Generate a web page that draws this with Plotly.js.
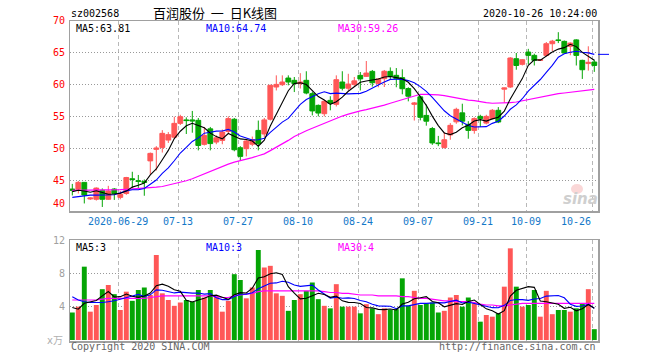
<!DOCTYPE html>
<html><head><meta charset="utf-8">
<script src="https://cdn.plot.ly/plotly-3.0.1.min.js"></script>
<style>html,body{margin:0;padding:0;background:#fff}#chart{width:660px;height:360px}</style>
</head><body><div id="chart"></div>
<script>
const dates = [
'2020-06-15','2020-06-16','2020-06-17','2020-06-18','2020-06-19','2020-06-22','2020-06-23','2020-06-24','2020-06-29','2020-06-30',
'2020-07-01','2020-07-02','2020-07-03','2020-07-06','2020-07-07','2020-07-08','2020-07-09','2020-07-10','2020-07-13','2020-07-14',
'2020-07-15','2020-07-16','2020-07-17','2020-07-20','2020-07-21','2020-07-22','2020-07-23','2020-07-24','2020-07-27','2020-07-28',
'2020-07-29','2020-07-30','2020-07-31','2020-08-03','2020-08-04','2020-08-05','2020-08-06','2020-08-07','2020-08-10','2020-08-11',
'2020-08-12','2020-08-13','2020-08-14','2020-08-17','2020-08-18','2020-08-19','2020-08-20','2020-08-21','2020-08-24','2020-08-25',
'2020-08-26','2020-08-27','2020-08-28','2020-08-31','2020-09-01','2020-09-02','2020-09-03','2020-09-04','2020-09-07','2020-09-08',
'2020-09-09','2020-09-10','2020-09-11','2020-09-14','2020-09-15','2020-09-16','2020-09-17','2020-09-18','2020-09-21','2020-09-22',
'2020-09-23','2020-09-24','2020-09-25','2020-09-28','2020-09-29','2020-09-30','2020-10-09','2020-10-12','2020-10-13','2020-10-14',
'2020-10-15','2020-10-16','2020-10-19','2020-10-20','2020-10-21','2020-10-22','2020-10-23','2020-10-26'];

const openP = [43.7,43.65,44.74,42.15,42.1,43.5,42.1,43.7,42.4,43.0,
45.3,45.0,44.9,48.1,49.9,50.2,51.35,51.8,53.96,54.5,
54.5,54.43,50.68,53.1,51.04,51.3,52.7,54.6,50.15,50.0,
50.7,52.86,52.3,54.6,59.64,60.0,61.04,60.68,60.16,60.68,
58.6,56.77,55.47,57.55,56.93,60.42,59.45,60.05,61.46,61.3,
62.08,60.2,60.94,62.08,61.46,61.1,59.4,56.93,58.1,55.2,
53.15,50.9,50.2,52.15,54.2,55.6,53.8,52.86,55.05,54.0,
54.7,56.0,59.3,59.64,64.06,63.18,65.1,64.58,63.8,64.58,
66.4,67.0,66.77,66.0,67.0,63.8,63.3,63.54];
const highP = [44.5,44.95,44.8,42.4,43.96,43.8,44.2,43.85,43.4,45.6,
46.4,45.9,45.2,49.4,50.4,52.9,52.6,55.0,55.3,54.9,
55.9,54.8,53.4,53.4,52.1,53.0,55.05,54.8,50.4,51.56,
51.9,54.4,54.8,60.0,61.46,61.46,61.46,61.2,61.8,62.1,
58.9,56.9,57.6,58.2,61.46,62.1,61.7,61.2,61.98,63.7,
62.3,61.0,62.3,62.7,62.6,62.4,59.6,57.3,58.3,56.9,
53.4,52.0,52.6,54.0,56.4,57.03,54.3,54.9,55.3,55.3,
56.2,56.5,59.55,64.3,64.95,64.0,65.6,64.84,63.95,66.67,
67.0,68.2,66.9,66.6,67.1,63.9,66.0,63.9];
const lowP = [42.7,43.0,41.45,42.0,41.9,40.9,42.0,42.0,42.1,42.8,
43.85,43.85,42.65,46.0,46.6,49.4,50.9,51.6,53.7,52.3,
52.5,49.74,50.5,49.74,50.7,50.7,52.45,49.6,48.2,48.8,
50.4,49.74,51.8,54.4,59.1,59.8,59.9,58.85,59.4,58.5,
55.2,55.05,55.05,56.0,56.6,59.1,59.1,59.64,59.1,61.2,
59.7,59.6,59.64,60.78,59.6,58.5,57.4,54.4,54.43,53.6,
50.6,50.4,50.0,51.4,53.9,53.65,51.56,52.34,53.4,53.8,
54.6,54.0,57.2,59.5,62.34,63.0,63.18,63.0,63.7,64.4,
65.26,66.5,64.84,64.6,63.0,60.9,62.2,62.0];
const closeP = [43.5,44.74,42.76,42.3,43.85,42.1,43.4,43.0,42.9,45.5,
45.2,44.9,44.75,49.27,50.1,52.4,52.2,53.96,55.0,54.4,
54.35,50.5,52.08,50.8,51.7,52.6,54.7,49.84,48.8,51.2,
51.4,50.78,54.5,59.9,60.05,60.42,60.42,60.16,60.42,58.7,
55.9,55.57,57.4,57.1,60.78,59.45,60.1,60.6,60.9,61.82,
60.3,60.9,62.1,61.3,60.94,59.37,58.2,57.15,54.9,54.3,
50.9,50.8,51.4,53.65,56.15,54.3,52.86,54.7,54.7,55.05,
56.0,54.17,59.5,64.17,63.0,63.9,64.58,63.8,63.9,66.4,
66.8,66.9,64.95,66.5,64.58,62.34,63.5,63.0];

const volume = [3.3,4.0,8.8,3.4,4.2,6.1,6.6,5.5,3.6,5.8,
4.7,6.0,6.3,5.4,10.2,5.6,4.8,4.1,4.5,4.8,
4.6,6.0,5.1,6.0,5.2,3.4,4.7,7.9,7.2,5.0,
6.3,10.8,8.7,8.9,5.6,5.3,3.5,4.8,5.5,5.9,
6.9,4.9,4.1,3.8,6.7,4.0,4.0,4.0,3.2,4.3,
3.8,3.1,3.8,3.6,3.7,7.4,4.1,5.9,4.2,4.4,
4.5,3.3,3.5,5.1,5.4,4.0,5.1,4.4,2.2,3.0,
2.8,3.2,6.4,11.0,6.4,4.0,4.2,6.0,2.8,5.9,
3.1,3.6,3.6,3.4,3.8,4.4,6.1,1.3];

const ma5 = [43.3,43.5,43.4,43.2,43.43,43.15,42.88,42.93,43.05,43.38,
44.0,44.3,44.65,45.92,46.84,48.28,49.74,51.59,52.73,53.59,
53.98,53.64,53.27,52.43,51.89,51.54,52.38,51.93,51.53,51.43,
51.19,50.4,51.34,53.56,55.33,57.13,59.06,60.19,60.29,60.02,
59.12,58.15,57.6,56.93,57.35,58.06,58.97,59.61,60.37,60.57,
60.74,60.9,61.2,61.28,61.11,60.92,60.38,59.39,58.11,56.78,
55.09,53.61,52.46,52.21,52.58,53.26,53.67,54.33,54.54,54.32,
54.66,54.92,55.88,57.78,59.37,60.95,63.03,63.89,63.84,64.52,
65.1,65.56,65.79,66.31,65.95,65.05,64.37,63.81];
const ma10 = [42.4,42.55,42.7,42.75,42.75,42.75,42.75,42.8,43.1,43.41,
43.58,43.59,43.79,44.49,45.11,46.14,47.02,48.12,49.33,50.22,
51.13,51.69,52.43,52.58,52.74,52.76,53.01,52.6,51.98,51.66,
51.36,51.39,51.63,52.54,53.38,54.16,54.73,55.76,56.93,57.68,
58.13,58.6,58.89,58.61,58.69,58.59,58.56,58.6,58.65,58.96,
59.4,59.94,60.41,60.83,60.84,60.83,60.64,60.3,59.7,58.95,
58.01,57.0,55.93,55.16,54.68,54.18,53.64,53.4,53.38,53.45,
53.96,54.3,55.11,56.16,56.85,57.81,58.98,59.89,60.81,61.94,
63.02,64.3,64.84,65.07,65.23,65.08,64.97,64.74];
const ma30 = [43.5,43.5,43.5,43.5,43.5,43.5,43.55,43.6,43.6,43.65,
43.7,43.75,43.8,43.9,44.0,44.1,44.3,44.5,44.7,45.0,
45.3,45.7,46.1,46.5,46.9,47.2,47.6,47.9,48.1,48.4,
48.6,48.9,49.2,49.7,50.2,50.8,51.3,51.9,52.4,52.8,
53.2,53.6,54.0,54.4,54.8,55.1,55.4,55.7,55.9,56.1,
56.3,56.6,56.8,57.1,57.4,57.7,58.0,58.3,58.5,58.5,
58.5,58.4,58.3,58.1,57.9,57.8,57.6,57.5,57.3,57.2,
57.1,57.1,57.1,57.2,57.3,57.5,57.7,57.9,58.0,58.2,
58.4,58.6,58.7,58.8,58.9,59.0,59.1,59.26];

const volMa5 = [3.9,3.7,4.4,4.6,4.74,5.3,5.82,5.16,5.2,5.52,
5.24,5.12,5.28,5.64,6.52,6.7,6.46,6.02,5.84,4.76,
4.56,4.8,5.0,5.3,5.38,5.14,4.88,5.44,5.68,5.64,
6.22,7.44,7.6,7.94,8.06,7.86,6.4,5.62,4.94,5.0,
5.32,5.6,5.46,5.12,5.28,4.7,4.52,4.5,4.38,3.9,
3.86,3.68,3.64,3.72,3.6,4.32,4.52,4.94,5.06,5.2,
4.62,4.46,3.98,4.16,4.36,4.26,4.62,4.8,4.22,3.74,
3.5,3.12,3.52,5.28,5.96,6.2,6.4,6.32,4.68,4.58,
4.4,4.28,3.8,3.92,3.5,3.76,4.26,3.8];
const volMa10 = [5.2,4.8,4.6,4.5,4.5,4.5,4.6,4.7,4.9,5.13,
5.27,5.47,5.22,5.42,6.02,5.97,5.79,5.65,5.74,5.64,
5.63,5.63,5.51,5.57,5.07,4.85,4.84,5.22,5.49,5.51,
5.68,6.16,6.52,6.81,6.85,7.04,6.92,6.61,6.44,6.53,
6.59,6.0,5.54,5.03,5.14,5.01,5.06,4.98,4.75,4.59,
4.28,4.1,4.07,4.05,3.75,4.09,4.1,4.29,4.39,4.4,
4.47,4.49,4.46,4.61,4.78,4.44,4.54,4.39,4.19,4.05,
3.88,3.87,4.16,4.75,4.85,4.85,4.76,4.92,4.98,5.27,
5.3,5.34,5.06,4.3,4.04,4.08,4.27,3.8];
const volMa30 = [4.8,4.8,4.8,4.8,4.8,4.9,5.0,5.0,5.0,5.0,
5.0,5.0,5.0,5.1,5.2,5.3,5.3,5.3,5.3,5.3,
5.3,5.3,5.3,5.3,5.2,5.1,5.1,5.3,5.4,5.5,
5.6,5.8,5.9,5.9,5.9,5.9,5.9,5.9,5.9,5.9,
5.9,5.9,5.8,5.7,5.7,5.6,5.6,5.5,5.4,5.4,
5.4,5.3,5.3,5.3,5.3,5.2,5.2,5.1,5.0,5.0,
4.9,4.8,4.7,4.7,4.6,4.6,4.6,4.5,4.3,4.2,
4.2,4.1,4.1,4.2,4.3,4.4,4.4,4.4,4.4,4.4,
4.4,4.4,4.4,4.4,4.4,4.4,4.4,4.4];

const priceTicks = [40,45,50,55,60,65,70];
const volTicks = [4,8,12];
const tickDates = ['2020-06-29','2020-07-13','2020-07-27','2020-08-10','2020-08-24','2020-09-07','2020-09-21','2020-10-09','2020-10-26'];
const tickLabels = ['2020-06-29','07-13','07-27','08-10','08-24','09-07','09-21','10-09','10-26'];

const stockCode = 'sz002568';
const chartTitle = '百润股份  一  日K线图';
const stamp = '2020-10-26 10:24:00';
const maLabels = ['MA5:63.81','MA10:64.74','MA30:59.26'];
const volMaLabels = ['MA5:3','MA10:3','MA30:4'];

// ---- drawing ----
const RED = '#ff5757', GREEN = '#05a505';
const idx = dates.map((d, i) => i);
const volColors = closeP.map((c, i) => c >= openP[i] ? RED : GREEN);
const gridVals = tickDates.map(d => dates.indexOf(d) - 0.333);

const L = 70, W = 528, T = 21, H = 320;
const px = x => (x - L) / W;
const py = y => (T + H - y) / H;
const MONO = 'DejaVu Sans Mono, Liberation Mono, monospace';
const XR = [-0.383, 87.617];

function ann(text, x, y, color, anchor, extra) {
  return Object.assign({
    text: text, x: px(x), y: py(y), xref: 'paper', yref: 'paper',
    showarrow: false, xanchor: anchor || 'left', yanchor: 'middle',
    font: {family: MONO, size: 10, color: color || '#000'}, borderpad: 0
  }, extra || {});
}

const traces = [
  {type: 'candlestick', x: idx, open: openP, high: highP, low: lowP, close: closeP,
   xaxis: 'x', yaxis: 'y', whiskerwidth: 0, hoverinfo: 'skip',
   increasing: {line: {color: RED, width: 1}, fillcolor: RED},
   decreasing: {line: {color: GREEN, width: 1}, fillcolor: GREEN}},
  {type: 'scatter', mode: 'lines', x: idx, y: ma30, xaxis: 'x', yaxis: 'y', line: {color: '#ff00ff', width: 1.2}, hoverinfo: 'skip'},
  {type: 'scatter', mode: 'lines', x: idx, y: ma10, xaxis: 'x', yaxis: 'y', line: {color: '#0000ff', width: 1.1}, hoverinfo: 'skip'},
  {type: 'scatter', mode: 'lines', x: idx, y: ma5, xaxis: 'x', yaxis: 'y', line: {color: '#000000', width: 1.1}, hoverinfo: 'skip'},
  {type: 'bar', x: idx, y: volume, xaxis: 'x2', yaxis: 'y2', width: 0.82, marker: {color: volColors, line: {width: 0}}, hoverinfo: 'skip'},
  {type: 'scatter', mode: 'lines', x: idx, y: volMa30, xaxis: 'x2', yaxis: 'y2', line: {color: '#ff00ff', width: 1.2}, hoverinfo: 'skip'},
  {type: 'scatter', mode: 'lines', x: idx, y: volMa10, xaxis: 'x2', yaxis: 'y2', line: {color: '#0000ff', width: 1.1}, hoverinfo: 'skip'},
  {type: 'scatter', mode: 'lines', x: idx, y: volMa5, xaxis: 'x2', yaxis: 'y2', line: {color: '#000000', width: 1.1}, hoverinfo: 'skip'}
];

const xCommon = {range: XR, tickmode: 'array', tickvals: gridVals, showticklabels: false, ticks: '',
  showgrid: true, gridcolor: '#b8b8b8', gridwidth: 1.5, griddash: '4px,3px', zeroline: false,
  showline: true, mirror: true, linecolor: '#a0a0a0', linewidth: 1.5, fixedrange: true};
const yCommon = {showticklabels: false, ticks: '', showgrid: true, gridcolor: '#999999', gridwidth: 1,
  griddash: '1px,2px', zeroline: false, showline: true, mirror: true, linecolor: '#a0a0a0', linewidth: 1.5, fixedrange: true};

const annotations = [];
annotations.push(ann(stockCode, 70, 13, '#000'));
annotations.push(ann(chartTitle, 215, 12, '#000', 'center', {font: {family: 'Noto Sans CJK SC', size: 13, color: '#000'}}));
annotations.push(ann(stamp, 598, 13, '#000', 'right'));
annotations.push(ann(maLabels[0], 75, 28.5, '#000'));
annotations.push(ann(maLabels[1], 205, 28.5, '#0000ff'));
annotations.push(ann(maLabels[2], 337, 28.5, '#ff00ff'));
annotations.push(ann(volMaLabels[0], 75, 247, '#000'));
annotations.push(ann(volMaLabels[1], 205, 247, '#0000ff'));
annotations.push(ann(volMaLabels[2], 337, 247, '#ff00ff'));
priceTicks.forEach(v => {
  const yPix = Math.min(20.7 + (70 - v) * 6.4, 203);
  annotations.push(ann(String(v), 66, yPix, '#ff0000', 'right'));
});
volTicks.forEach(v => {
  annotations.push(ann(String(v), 66, 340 - v * 8.33, '#a0a0a0', 'right'));
});
annotations.push(ann('x万', 64, 340, '#b0b0b0', 'right', {font: {family: 'DejaVu Sans, Noto Sans CJK SC', size: 10, color: '#b0b0b0'}}));
tickLabels.forEach((t, i) => {
  const last = i === tickLabels.length - 1;
  annotations.push({text: t, x: gridVals[i], xref: 'x', y: py(221), yref: 'paper', showarrow: false,
    xanchor: last ? 'right' : 'center', yanchor: 'middle', borderpad: 0,
    font: {family: MONO, size: 10, color: '#1478c8'}});
});
annotations.push(ann('Copyright 2020 SINA.COM', 70, 346, '#666'));
annotations.push(ann('http://finance.sina.com.cn', 597, 346, '#666', 'right'));
annotations.push(ann('sina', 580, 199, '#cfcfcf', 'center', {font: {family: 'DejaVu Sans', size: 15, color: '#cfcfcf', weight: 'bold', style: 'italic'}}));

const shapes = [
  {type: 'circle', xref: 'paper', yref: 'paper', x0: px(571), x1: px(583), y0: py(184), y1: py(194),
   fillcolor: 'rgba(240,140,140,0.35)', line: {width: 0}},
  {type: 'line', xref: 'paper', yref: 'y', x0: 1, x1: px(609), y0: ma10[ma10.length - 1], y1: ma10[ma10.length - 1],
   line: {color: '#0000ff', width: 1}}
];

const layout = {
  width: 660, height: 360, margin: {l: L, r: 660 - L - W, t: T, b: 360 - T - H},
  paper_bgcolor: '#ffffff', plot_bgcolor: '#ffffff', showlegend: false,
  boxgap: 0.2, boxgroupgap: 0, bargap: 0.18,
  xaxis: Object.assign({}, xCommon, {domain: [0, 1], anchor: 'y', rangeslider: {visible: false}}),
  yaxis: Object.assign({}, yCommon, {domain: [py(211), 1], range: [40.27, 69.95], tickvals: [45, 50, 55, 60, 65]}),
  xaxis2: Object.assign({}, xCommon, {domain: [0, 1], anchor: 'y2'}),
  yaxis2: Object.assign({}, yCommon, {domain: [0, py(240)], range: [-0.12, 12], tickvals: [4, 8]}),
  annotations: annotations, shapes: shapes
};

Plotly.newPlot('chart', traces, layout, {staticPlot: true, displayModeBar: false});
</script>
</body></html>
